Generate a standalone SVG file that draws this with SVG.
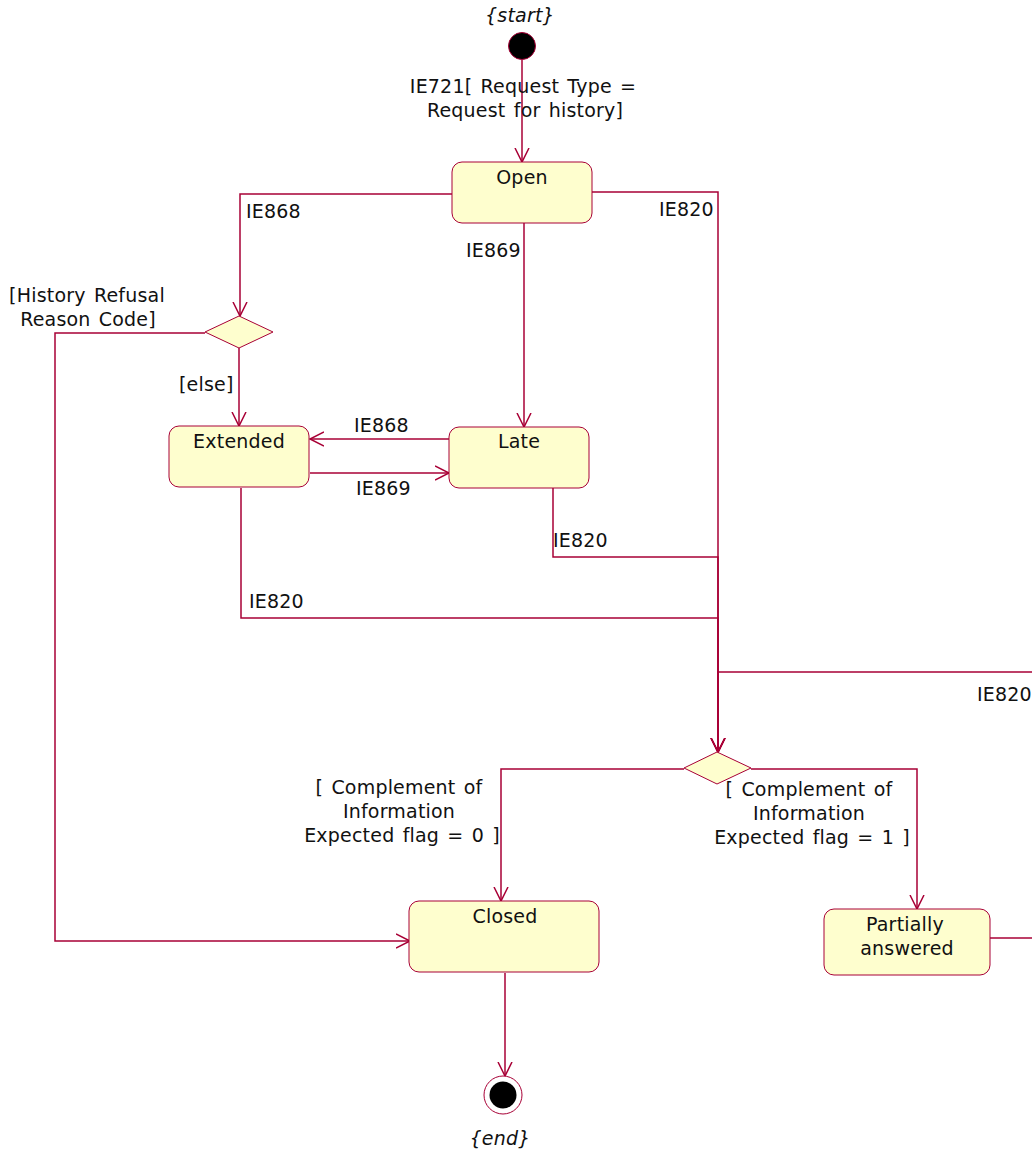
<svg xmlns="http://www.w3.org/2000/svg" width="1032" height="1150" viewBox="0 0 1032 1150">
<style>
text{font-family:"DejaVu Sans",Verdana,sans-serif;font-size:19px;letter-spacing:0.2px;word-spacing:2px;fill:#111}
.it{font-style:italic}
.st{fill:#FEFECE;stroke:#A80036;stroke-width:1}
.c{fill:none;stroke:#A80036;stroke-width:1.5}
</style>
<defs>
<marker id="a" markerUnits="userSpaceOnUse" markerWidth="16" markerHeight="16" refX="14" refY="7" orient="auto" viewBox="0 0 16 14">
<path d="M0,0 L14,7 L0,14" fill="none" stroke="#A80036" stroke-width="1.5"/>
</marker>
</defs>
<rect width="1032" height="1150" fill="#fff"/>
<g id="connectors">
<path class="c" d="M522,60 L522,162" marker-end="url(#a)"/>
<path class="c" d="M452,194 L240,194 L240,316" marker-end="url(#a)"/>
<path class="c" d="M592,192 L718,192 L718,752" marker-end="url(#a)"/>
<path class="c" d="M524,223 L524,427" marker-end="url(#a)"/>
<path class="c" d="M205,333 L55,333 L55,941 L410,941" marker-end="url(#a)"/>
<path class="c" d="M239,348 L239,426" marker-end="url(#a)"/>
<path class="c" d="M449,439 L310,439" marker-end="url(#a)"/>
<path class="c" d="M310,473 L449,473" marker-end="url(#a)"/>
<path class="c" d="M553,488 L553,557 L718,557 L718,752" marker-end="url(#a)"/>
<path class="c" d="M241,488 L241,618 L718,618 L718,752" marker-end="url(#a)"/>
<path class="c" d="M1032,672 L718,672 L718,752" marker-end="url(#a)"/>
<path class="c" d="M684,769 L501,769 L501,901" marker-end="url(#a)"/>
<path class="c" d="M751,769 L917,769 L917,909" marker-end="url(#a)"/>
<path class="c" d="M990,938 L1032,938"/>
<path class="c" d="M505,973 L505,1076" marker-end="url(#a)"/>
<text x="523" y="93" text-anchor="middle">IE721[ Request Type =</text>
<text x="525" y="117" text-anchor="middle">Request for history]</text>
<text x="246" y="218">IE868</text>
<text x="659" y="216">IE820</text>
<text x="466" y="257">IE869</text>
<text x="87" y="302" text-anchor="middle">[History Refusal</text>
<text x="88" y="326" text-anchor="middle">Reason Code]</text>
<text x="179" y="391">[else]</text>
<text x="354" y="432">IE868</text>
<text x="356" y="495">IE869</text>
<text x="553" y="547">IE820</text>
<text x="249" y="608">IE820</text>
<text x="977" y="701">IE820</text>
<text x="399" y="794" text-anchor="middle">[ Complement of</text>
<text x="399" y="818" text-anchor="middle">Information</text>
<text x="402" y="842" text-anchor="middle">Expected flag = 0 ]</text>
<text x="809" y="796" text-anchor="middle">[ Complement of</text>
<text x="809" y="820" text-anchor="middle">Information</text>
<text x="812" y="844" text-anchor="middle">Expected flag = 1 ]</text>
</g>
<g id="start">
<circle cx="522" cy="46" r="13.5" fill="#000" stroke="#A80036" stroke-width="1"/>
<text class="it" x="520" y="22" text-anchor="middle">{start}</text>
</g>
<g id="open">
<rect class="st" x="452" y="162" width="140" height="61" rx="10"/>
<text x="522" y="184" text-anchor="middle">Open</text>
</g>
<g id="decision1">
<polygon class="st" points="239,316 273,332 239,348 205,332"/>
</g>
<g id="extended">
<rect class="st" x="169" y="426" width="140" height="61" rx="10"/>
<text x="239" y="448" text-anchor="middle">Extended</text>
</g>
<g id="late">
<rect class="st" x="449" y="427" width="140" height="61" rx="10"/>
<text x="519" y="448" text-anchor="middle">Late</text>
</g>
<g id="decision2">
<polygon class="st" points="717,752 751,768 717,784 684,768"/>
</g>
<g id="closed">
<rect class="st" x="409" y="901" width="190" height="71" rx="10"/>
<text x="505" y="923" text-anchor="middle">Closed</text>
</g>
<g id="partially">
<rect class="st" x="824" y="909" width="166" height="66" rx="10"/>
<text x="905" y="931" text-anchor="middle">Partially</text>
<text x="907" y="955" text-anchor="middle">answered</text>
</g>
<g id="end">
<circle cx="503" cy="1095" r="19" fill="#fff" stroke="#A80036" stroke-width="1"/>
<circle cx="503" cy="1095" r="13.5" fill="#000"/>
<text class="it" x="500" y="1145" text-anchor="middle">{end}</text>
</g>
</svg>
